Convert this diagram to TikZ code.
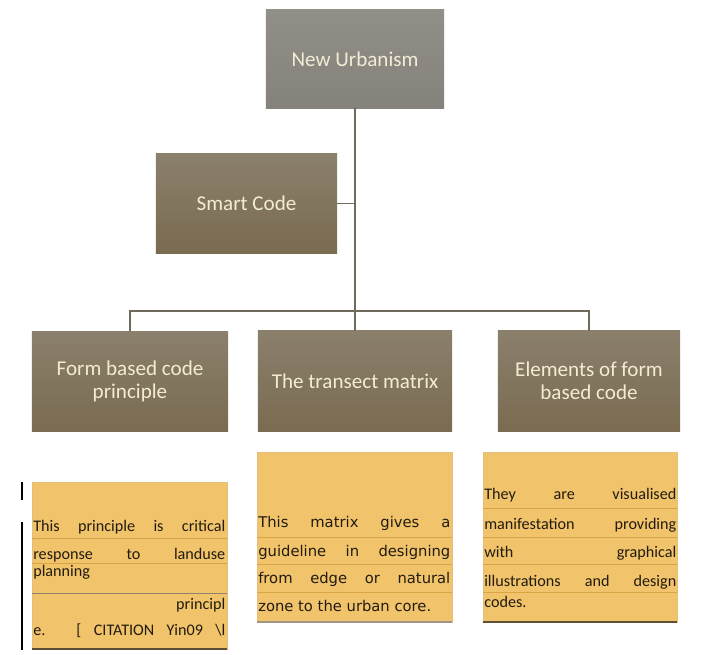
\documentclass[tikz,border=0pt]{standalone}
\usepackage{fontspec}
\setmainfont{Carlito}
\newfontfamily\matrixfont{DejaVu Sans}
\usetikzlibrary{arrows.meta, positioning}
\definecolor{urbgraytop}{HTML}{918F88}
\definecolor{urbgraybot}{HTML}{84827A}
\definecolor{codebrowntop}{HTML}{8B806C}
\definecolor{codebrownbot}{HTML}{7A6B51}
\definecolor{creamtext}{HTML}{F3EBD4}
\definecolor{notegold}{HTML}{F1C36A}
\definecolor{noterulecol}{HTML}{D9A443}
\definecolor{noteshadowcol}{HTML}{5E4E33}
\definecolor{linkgray}{HTML}{6F6A5C}
\definecolor{notetext}{HTML}{221C10}
\newcommand{\jline}[1]{\makebox[4.8cm][s]{#1}}
\newcommand{\lline}[1]{\makebox[4.8cm][l]{#1}}
\newcommand{\rline}[1]{\makebox[4.8cm][r]{#1}}

\begin{document}
\begin{tikzpicture}[
    x=0.025cm, y=-0.025cm,
    codebox/.style={rectangle, top color=codebrowntop, bottom color=codebrownbot, draw=none,
      text=creamtext, font=\fontsize{15}{16}\selectfont, align=center, inner sep=0pt},
    notebox/.style={rectangle, fill=notegold, draw=noterulecol!70, line width=0.4pt, inner sep=0pt},
    noteline/.style={anchor=base west, inner sep=0pt, text=notetext, font=\fontsize{11.5}{13}\selectfont},
    noterule/.style={noterulecol, line width=0.6pt},
    noteshadow/.style={noteshadowcol, line width=1.6pt},
    link/.style={linkgray, line width=2pt},
]
\useasboundingbox (0,0) rectangle (715,655);

% Hierarchy boxes
\node[codebox, top color=urbgraytop, bottom color=urbgraybot, minimum width=4.45cm, minimum height=2.45cm] (nu) at (355,59) {New Urbanism};
\node[codebox, minimum width=4.525cm, minimum height=2.475cm] (sc) at (246.5,203.5) {Smart Code};
\node[codebox, minimum width=4.9cm, minimum height=2.5cm] (fbc) at (130,381.5) {Form based code\\principle};
\node[codebox, minimum width=4.85cm, minimum height=2.5cm] (tm) at (355,381) {The transect matrix};
\node[codebox, minimum width=4.55cm, minimum height=2.5cm] (elem) at (589,381) {Elements of form\\based code};

% Connectors
\coordinate (hub) at (355,311);
\draw[link] (nu.south) -- (hub);
\draw[link, line width=1.2pt] (sc.east) -- (sc.east -| hub);
\draw[link] (fbc.north) |- (hub) -| (elem.north);
\draw[link] (hub) -- (tm.north);

% Note boxes
\node[notebox, minimum width=4.875cm, minimum height=4.175cm] (fbcnote) at (129.5,565.5) {};
\node[notebox, minimum width=4.875cm, minimum height=4.25cm] (tmnote) at (354.5,537) {};
\node[notebox, minimum width=4.85cm, minimum height=4.25cm] (elemnote) at (580,537) {};

\foreach \yy in {538,563} \draw[noterule] (32,\yy) -- (227,\yy);
\draw[noterule, color=noteshadowcol!70] (32,593) -- (227,593);
\foreach \yy in {537,564,592} \draw[noterule] (257,\yy) -- (452,\yy);
\foreach \yy in {508,537,564,592} \draw[noterule] (483,\yy) -- (677,\yy);

\draw[noteshadow] (fbcnote.south west) -- (fbcnote.south east);
\draw[noteshadow, color=noteshadowcol!60] (tmnote.south west) -- (tmnote.south east);
\draw[noteshadow] (elemnote.south west) -- (elemnote.south east);

% Note texts
\foreach \yy/\txt [count=\i] in {531/{\jline{This principle is critical}}, 559/{\jline{response to landuse}},
    576/{\lline{planning}}, 609/{\rline{principl}}, 635/{\jline{e. [ CITATION Yin09 \textbackslash l}}}
  \node[noteline] (fbcline\i) at (33,\yy) {\txt};
\foreach \yy/\txt [count=\i] in {527/{\jline{This matrix gives a}}, 556/{\jline{guideline in designing}},
    583/{\jline{from edge or natural}}, 611/{\lline{zone to the urban core.}}}
  \node[noteline, font=\matrixfont\fontsize{10.5}{12}\selectfont] (tmline\i) at (258,\yy) {\txt};
\foreach \yy/\txt [count=\i] in {499/{\jline{They are visualised}}, 529/{\jline{manifestation providing}},
    557/{\jline{with graphical}}, 586/{\jline{illustrations and design}}, 607/{\lline{codes.}}}
  \node[noteline] (elemline\i) at (484,\yy) {\txt};

% Margin mark
\draw[black, line width=1.3pt] (22,482) -- (22,500);
\draw[black, line width=1.3pt] (22,522) -- (22,650);

\end{tikzpicture}
\end{document}
